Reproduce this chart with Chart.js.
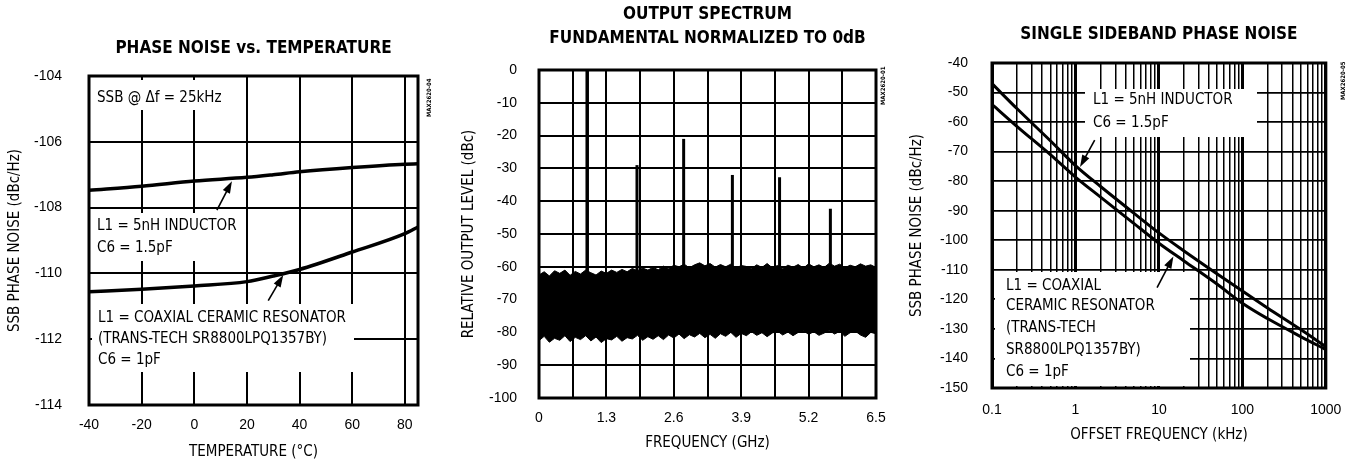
<!DOCTYPE html>
<html>
<head>
<meta charset="utf-8">
<title>Typical operating characteristics</title>
<script src="https://cdn.jsdelivr.net/npm/chart.js@4.4.1/dist/chart.umd.min.js"></script>
<style>
  html, body { margin: 0; padding: 0; background: #fff; }
  #sheet { position: relative; width: 1355px; height: 464px; }
  canvas { position: absolute; top: 0; }
</style>
</head>
<body>
<div id="sheet">
  <canvas id="tempChart" width="450" height="464" style="left:0"></canvas>
  <canvas id="spectrumChart" width="450" height="464" style="left:450px"></canvas>
  <canvas id="ssbChart" width="455" height="464" style="left:900px"></canvas>
</div>
<script>
// phase noise vs. temperature
const tempC = [-40, -20, 0, 20, 30, 40, 60, 80, 85];
const inductorNoise = [-107.47, -107.35, -107.19, -107.08, -107.0, -106.91, -106.78, -106.68, -106.67];
const resonatorNoise = [-110.56, -110.48, -110.38, -110.25, -110.08, -109.88, -109.35, -108.79, -108.59];
const tempTicks = [-40, -20, 0, 20, 40, 60, 80];
const tempNoiseTicks = [-114, -112, -110, -108, -106, -104];

// output spectrum
const freqTicks = [0, 0.65, 1.3, 1.95, 2.6, 3.25, 3.9, 4.55, 5.2, 5.85, 6.5];
const freqTickLabels = ['0', '', '1.3', '', '2.6', '', '3.9', '', '5.2', '', '6.5'];
const levelTicks = [-100, -90, -80, -70, -60, -50, -40, -30, -20, -10, 0];
const harmonicGHz = [0.93, 1.89, 2.79, 3.73, 4.64, 5.62];
const harmonicDbc = [0, -29, -21, -32, -32.7, -42.3];
const spikeFoot = -70;
const floorGHz = [0.0, 0.1, 0.2, 0.3, 0.4, 0.5, 0.6, 0.7, 0.8, 0.9, 1.0, 1.1, 1.2, 1.3, 1.4, 1.5, 1.6,
  1.7, 1.8, 1.9, 2.0, 2.1, 2.2, 2.3, 2.4, 2.5, 2.6, 2.7, 2.8, 2.9, 3.0, 3.1, 3.2, 3.3, 3.4, 3.5,
  3.6, 3.7, 3.8, 3.9, 4.0, 4.1, 4.2, 4.3, 4.4, 4.5, 4.6, 4.7, 4.8, 4.9, 5.0, 5.1, 5.2, 5.3, 5.4,
  5.5, 5.6, 5.7, 5.8, 5.9, 6.0, 6.1, 6.2, 6.3, 6.4, 6.5];
const floorTop = [-62.5, -61.5, -62.8, -61.2, -62.0, -61.0, -62.6, -61.4, -62.2, -61.0,
  -61.8, -62.5, -61.3, -62.0, -61.0, -61.7, -60.8, -61.5, -60.5,
  -61.2, -60.4, -61.0, -60.2, -60.9, -59.8, -60.6, -59.5,
  -60.0, -59.2, -60.3, -59.4, -58.8, -59.7, -59.0, -60.1, -59.3, -60.0, -59.2, -60.4, -59.6,
  -59.9, -60.5, -59.4, -60.2, -59.0, -60.3, -59.6, -60.6, -59.5, -60.1, -59.3, -60.4, -59.1,
  -60.0, -59.4, -60.2, -58.9, -59.8, -59.2, -60.3, -59.5, -60.0, -59.1, -59.8, -59.4, -60.2];
const floorBottom = [-82.5, -81.2, -83.0, -81.8, -82.4, -81.0, -82.8, -81.5, -82.2, -81.0, -82.6,
  -81.4, -83.1, -81.9, -82.3, -81.2, -82.7, -81.6, -82.0, -80.9, -82.4, -81.3, -82.1,
  -81.0, -82.2, -80.8, -81.7, -80.5, -81.9, -80.7, -81.4, -80.3, -81.6, -80.6,
  -81.8, -80.4, -81.2, -80.0, -81.5, -80.3, -81.0, -79.8, -80.9, -80.1, -81.3,
  -80.2, -79.6, -80.8, -79.9, -81.0, -80.0, -79.5, -80.6, -79.8, -80.9, -80.2,
  -79.4, -80.5, -79.7, -81.2, -80.1, -79.6, -80.8, -81.5, -80.0, -80.4];

// single sideband phase noise
const offsetKHz = [0.1, 0.2, 0.5, 1, 2, 5, 10, 20, 50, 100, 200, 500, 1000];
const ssbInductor = [-47, -55.5, -66.3, -74.7, -81.8, -90.8, -97.5, -103.6, -111.4, -117.2, -122.9, -130.2, -136];
const ssbResonator = [-54, -61.5, -71, -78.6, -85.4, -94.3, -101, -107, -114.9, -121.3, -126.5, -132.6, -137];
const offsetDecades = [0.1, 1, 10, 100, 1000];
const offsetTicks = [0.1, 0.2, 0.3, 0.4, 0.5, 0.6, 0.7, 0.8, 0.9, 1, 2, 3, 4, 5, 6, 7, 8, 9,
  10, 20, 30, 40, 50, 60, 70, 80, 90, 100, 200, 300, 400, 500, 600, 700, 800, 900, 1000];
const ssbTicks = [-150, -140, -130, -120, -110, -100, -90, -80, -70, -60, -50, -40];

const NARROW = '"DejaVu Sans Condensed", "Liberation Sans", sans-serif';
const TICK_FONT = { family: 'Liberation Sans', size: 14 };
const LABEL_FONT = { family: NARROW, size: 15 };
const NOTE_FONT = '15px ' + NARROW;
const TITLE_FONT = 'bold 17px ' + NARROW;

Chart.defaults.color = '#000';

function pts(xs, ys) {
    return xs.map((x, i) => ({ x: x, y: ys[i] }));
}

// axis with a fixed size so the plot boxes land where the sheet has them
function axis(type, min, max, values, size, tickPad, title, titlePad, extra) {
    return Object.assign({
        type: type,
        min: min,
        max: max,
        afterBuildTicks(scale) { scale.ticks = values.map(v => ({ value: v })); },
        afterFit(scale) {
            if (scale.isHorizontal()) scale.height = size;
            else scale.width = size;
        },
        border: { display: false },
        grid: { color: '#000', lineWidth: 2, drawTicks: false },
        ticks: { font: TICK_FONT, color: '#000', padding: tickPad, maxRotation: 0, autoSkip: false,
                 callback: v => String(v) },
        title: { display: true, text: title, font: LABEL_FONT, color: '#000', padding: titlePad }
    }, extra || {});
}

function curve(data, width) {
    return { data: data, borderColor: '#000', borderWidth: width, pointRadius: 0,
             cubicInterpolationMode: 'monotone', fill: false };
}

// frame, titles, white label boxes, notes and arrows
function sheet(cfg) {
    return {
        id: 'sheet',
        beforeDatasetsDraw(chart) {
            const ctx = chart.ctx;
            ctx.save();
            ctx.fillStyle = '#fff';
            (cfg.boxes || []).forEach(b => ctx.fillRect(b[0], b[1], b[2], b[3]));
            ctx.fillStyle = '#000';
            ctx.font = NOTE_FONT;
            ctx.textBaseline = 'middle';
            ctx.textAlign = 'left';
            (cfg.notes || []).forEach(n => ctx.fillText(n[0], n[1], n[2]));
            ctx.restore();
        },
        afterDatasetsDraw(chart) {
            const { ctx, chartArea: a, scales } = chart;
            ctx.save();
            ctx.strokeStyle = '#000';
            ctx.fillStyle = '#000';
            (cfg.arrows || []).forEach(ar => {
                const x0 = scales.x.getPixelForValue(ar[0]), y0 = scales.y.getPixelForValue(ar[1]);
                const x1 = scales.x.getPixelForValue(ar[2]), y1 = scales.y.getPixelForValue(ar[3]);
                const ang = Math.atan2(y1 - y0, x1 - x0);
                ctx.lineWidth = 1.6;
                ctx.beginPath();
                ctx.moveTo(x0, y0);
                ctx.lineTo(x1 - 8 * Math.cos(ang), y1 - 8 * Math.sin(ang));
                ctx.stroke();
                ctx.beginPath();
                ctx.moveTo(x1, y1);
                ctx.lineTo(x1 - 12 * Math.cos(ang) + 4 * Math.sin(ang), y1 - 12 * Math.sin(ang) - 4 * Math.cos(ang));
                ctx.lineTo(x1 - 12 * Math.cos(ang) - 4 * Math.sin(ang), y1 - 12 * Math.sin(ang) + 4 * Math.cos(ang));
                ctx.closePath();
                ctx.fill();
            });
            ctx.lineWidth = 3;
            ctx.strokeRect(a.left, a.top, a.right - a.left, a.bottom - a.top);

            ctx.font = TITLE_FONT;
            ctx.textAlign = 'center';
            ctx.textBaseline = 'middle';
            cfg.title.forEach((t, i) => ctx.fillText(t, (a.left + a.right) / 2, cfg.titleY[i]));

            ctx.translate(cfg.tag[1], cfg.tag[2]);
            ctx.rotate(-Math.PI / 2);
            ctx.font = 'bold 6px ' + NARROW;
            ctx.textAlign = 'left';
            ctx.fillText(cfg.tag[0], 0, 0);
            ctx.restore();
        }
    };
}

const common = {
    responsive: false,
    animation: false,
    events: [],
    plugins: { legend: { display: false }, tooltip: { enabled: false } }
};

// left: phase noise vs. temperature
new Chart(document.getElementById('tempChart'), {
    type: 'line',
    data: {
        datasets: [
            curve(pts(tempC, inductorNoise), 3.5),
            curve(pts(tempC, resonatorNoise), 3.5)
        ]
    },
    options: Object.assign({}, common, {
        layout: { padding: { top: 76, right: 32, bottom: 0, left: 0 } },
        scales: {
            x: axis('linear', -40, 85, tempTicks, 59, 11.6, 'TEMPERATURE (°C)', { top: 0, bottom: 3 }),
            y: axis('linear', -114, -104, tempNoiseTicks, 89, 27, 'SSB PHASE NOISE (dBc/Hz)', { top: 6, bottom: 0 })
        }
    }),
    plugins: [sheet({
        title: ['PHASE NOISE vs. TEMPERATURE'],
        titleY: [49],
        tag: ['MAX2620-04', 429, 117],
        boxes: [[92, 80, 134, 30], [92, 213, 148, 48], [92, 304, 262, 68]],
        notes: [
            ['SSB @ \u0394f = 25kHz', 97, 98],
            ['L1 = 5nH INDUCTOR', 97, 226],
            ['C6 = 1.5pF', 97, 248],
            ['L1 = COAXIAL CERAMIC RESONATOR', 98, 318],
            ['(TRANS-TECH SR8800LPQ1357BY)', 98, 339],
            ['C6 = 1pF', 98, 360]
        ],
        arrows: [[8.6, -108.08, 14.3, -107.2], [28.1, -110.83, 33.8, -110.05]]
    })]
});

// middle: output spectrum
const spikes = harmonicGHz.map((f, i) => ({
    data: [{ x: f, y: spikeFoot }, { x: f, y: harmonicDbc[i] }],
    borderColor: '#000', borderWidth: i === 0 ? 3.5 : 3, pointRadius: 0, fill: false
}));

new Chart(document.getElementById('spectrumChart'), {
    type: 'line',
    data: {
        datasets: [
            { data: pts(floorGHz, floorTop), borderColor: '#000', borderWidth: 1, pointRadius: 0,
              backgroundColor: '#000', fill: '+1' },
            { data: pts(floorGHz, floorBottom), borderColor: '#000', borderWidth: 1, pointRadius: 0, fill: false }
        ].concat(spikes)
    },
    options: Object.assign({}, common, {
        layout: { padding: { top: 70, right: 24, bottom: 0, left: 0 } },
        scales: {
            x: axis('linear', 0, 6.5, freqTicks, 66, 11.6, 'FREQUENCY (GHz)', { top: 0, bottom: 12 },
                { ticks: { font: TICK_FONT, color: '#000', padding: 11.6, maxRotation: 0, autoSkip: false,
                           callback: (v, i) => freqTickLabels[i] } }),
            y: axis('linear', -100, 0, levelTicks, 89, 22, 'RELATIVE OUTPUT LEVEL (dBc)', { top: 10, bottom: 0 })
        }
    }),
    plugins: [sheet({
        title: ['OUTPUT SPECTRUM', 'FUNDAMENTAL NORMALIZED TO 0dB'],
        titleY: [15, 39],
        tag: ['MAX2620-01', 433, 105]
    })]
});

// right: single sideband phase noise
new Chart(document.getElementById('ssbChart'), {
    type: 'line',
    data: {
        datasets: [
            curve(pts(offsetKHz, ssbInductor), 3),
            curve(pts(offsetKHz, ssbResonator), 3)
        ]
    },
    options: Object.assign({}, common, {
        layout: { padding: { top: 63, right: 20, bottom: 0, left: 0 } },
        scales: {
            x: axis('logarithmic', 0.1, 1000, offsetTicks, 76, 13.6, 'OFFSET FREQUENCY (kHz)', { top: 0, bottom: 20 },
                { grid: { color: '#000', drawTicks: false,
                          lineWidth: c => offsetDecades.includes(c.tick.value) ? 3 : 1.5 },
                  ticks: { font: TICK_FONT, color: '#000', padding: 13.6, maxRotation: 0, autoSkip: false,
                           callback: v => offsetDecades.includes(v) ? String(v) : '' } }),
            y: axis('linear', -150, -40, ssbTicks, 92, 24, 'SSB PHASE NOISE (dBc/Hz)', { top: 8.5, bottom: 0 },
                { grid: { color: '#000', lineWidth: 1.8, drawTicks: false } })
        }
    }),
    plugins: [sheet({
        title: ['SINGLE SIDEBAND PHASE NOISE'],
        titleY: [35],
        tag: ['MAX2620-05', 443, 100],
        boxes: [[185, 89, 172, 48], [95, 272, 195, 114]],
        notes: [
            ['L1 = 5nH INDUCTOR', 193, 100],
            ['C6 = 1.5pF', 193, 123],
            ['L1 = COAXIAL', 106, 286],
            ['CERAMIC RESONATOR', 106, 306],
            ['(TRANS-TECH', 106, 328],
            ['SR8800LPQ1357BY)', 106, 350],
            ['C6 = 1pF', 106, 372]
        ],
        arrows: [[1.7, -66.1, 1.135, -75.2], [9.5, -116.0, 14.9, -105.5]]
    })]
});
</script>
</body>
</html>
